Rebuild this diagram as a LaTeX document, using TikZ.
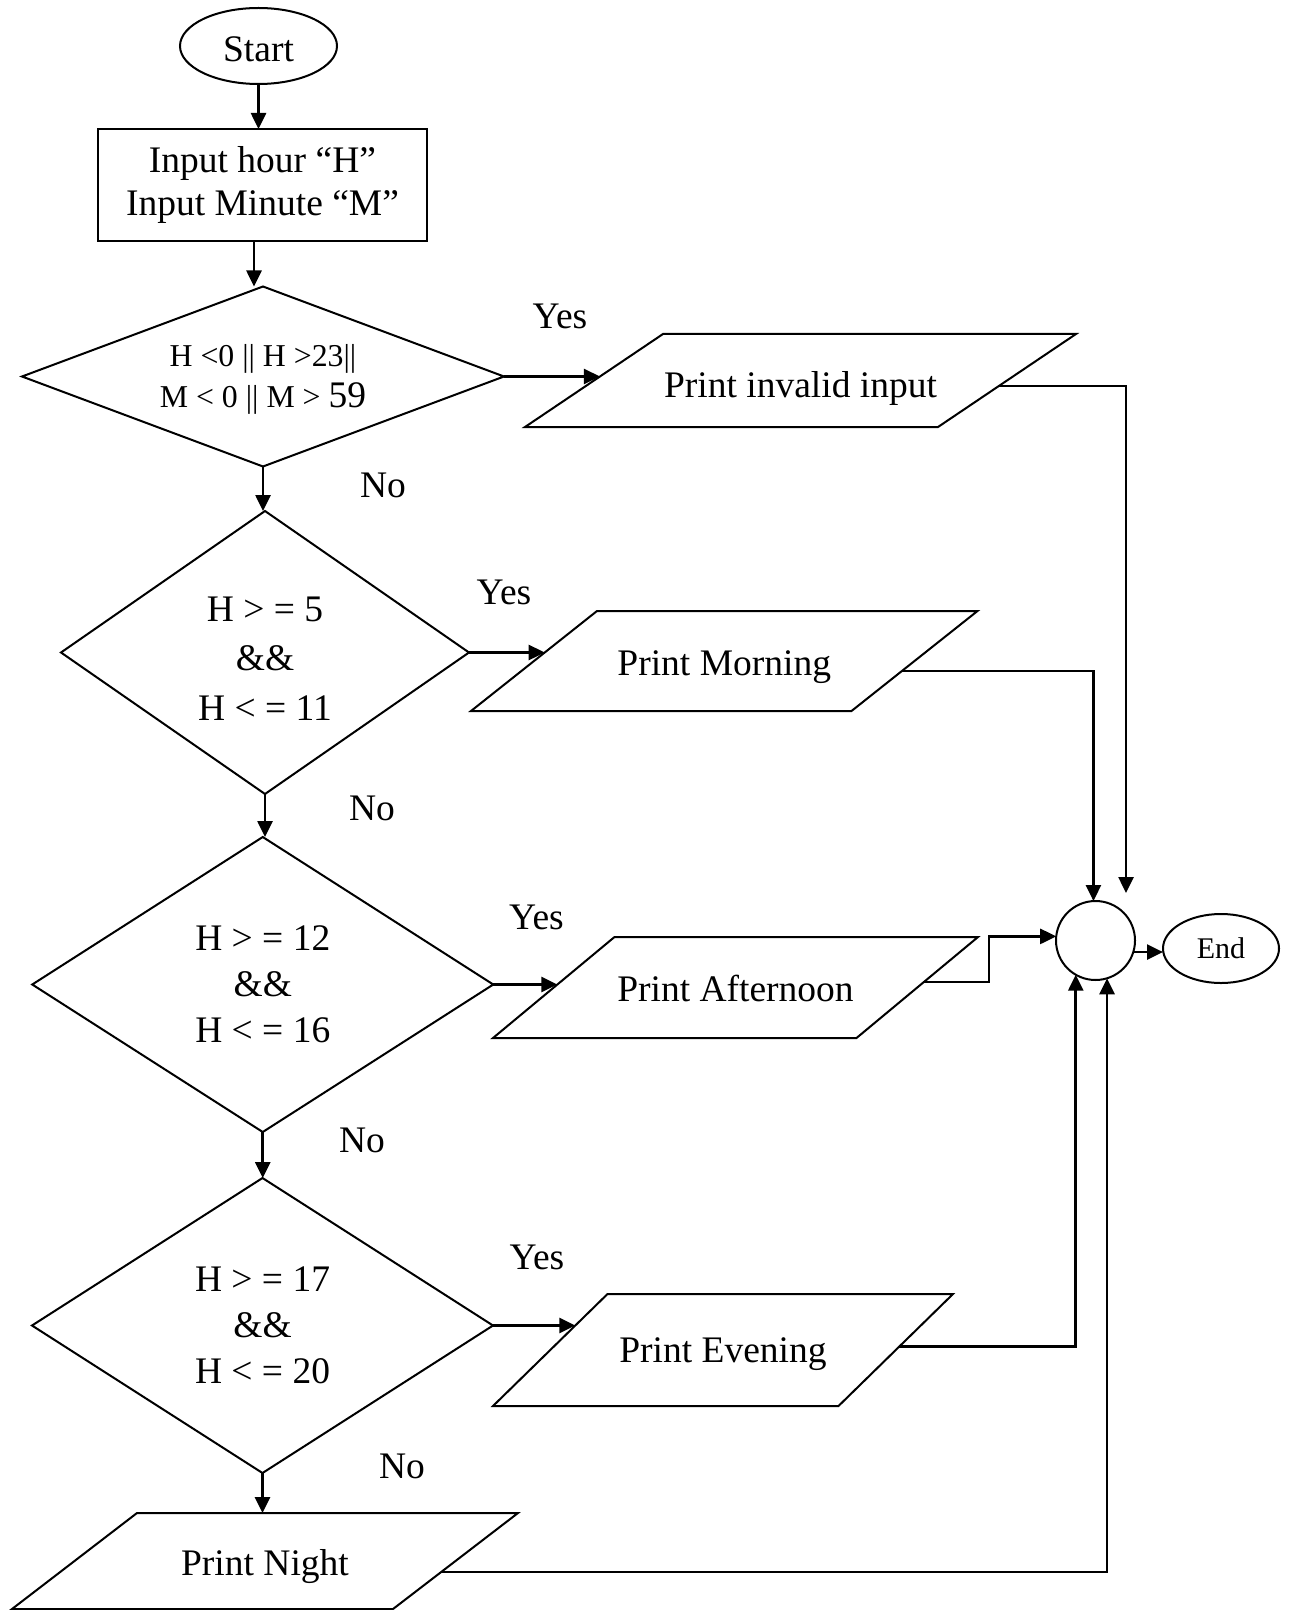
\documentclass[tikz,border=0pt]{standalone}
\usepackage{fontspec}
\setmainfont{Liberation Serif}
\usetikzlibrary{shapes.geometric,arrows.meta,calc}
% parallelogram drawn around a named box: #1 node name, #2 half of the slant
\newcommand\drawio[2]{%
  \coordinate (#1tl) at ([xshift=#2]#1.north west);
  \coordinate (#1tr) at ([xshift=#2]#1.north east);
  \coordinate (#1br) at ([xshift=-#2]#1.south east);
  \coordinate (#1bl) at ([xshift=-#2]#1.south west);
  \draw[shape line] (#1tl) -- (#1tr) -- (#1br) -- (#1bl) -- cycle;}
\begin{document}
\begin{tikzpicture}[x=0.5pt,y=-0.5pt,
  every node/.style={inner sep=0pt, outer sep=0pt},
  txt/.style={font=\fontsize{18.75}{23}\selectfont},
  shape line/.style={draw, line width=1pt, line join=miter},
  terminal/.style={ellipse, shape line, txt},
  procbox/.style={rectangle, shape line, txt, align=center},
  decision/.style={diamond, shape line},
  condtext/.style={txt, align=center},
  iobox/.style={rectangle, txt, text height=12.4pt, text depth=0pt},
  flow/.style={line width=1.3pt, -{Triangle[length=8pt,width=7.5pt]}},
  lbl/.style={txt}
]
\useasboundingbox (0,0) rectangle (1294,1610);

% main column
\node[terminal, minimum width=78.5pt, minimum height=38pt,
      text height=15.6pt, text depth=0pt] (start) at (258.5,46) {Start};
\node[procbox, minimum width=164.5pt, minimum height=56pt,
      font=\fontsize{18.75}{21.5}\selectfont] (input) at (262.5,185)
      {Input hour “H”\\Input Minute “M”};

\node[decision, minimum width=241pt, minimum height=90pt, aspect=2.68] (d1) at (263,376.5) {};
\node[condtext, font=\fontsize{15.9}{20.5}\selectfont] (d1t) at (263,379.5)
      {H <0 || H >23||\\M < 0 || M > {\fontsize{18.75}{20.5}\selectfont 59}};
\node[decision, minimum width=204pt, minimum height=141.5pt, aspect=1.44] (d2) at (265,652.5) {};
\node[condtext, font=\fontsize{18.75}{24.75}\selectfont] (d2t) at (265,658.5)
      {H > = 5\\\&\&\\H < = 11};
\node[decision, minimum width=230.5pt, minimum height=147.5pt, aspect=1.56] (d3) at (262.75,984.5) {};
\node[condtext] (d3t) at (262.75,984.5) {H > = 12\\\&\&\\H < = 16};
\node[decision, minimum width=230.5pt, minimum height=147.5pt, aspect=1.56] (d4) at (262.5,1325.5) {};
\node[condtext] (d4t) at (262.5,1325) {H > = 17\\\&\&\\H < = 20};

% output boxes
\node[iobox, minimum width=206.5pt, minimum height=46.5pt, text height=17pt] (p1) at (800.5,380.5) {Print invalid input};
\drawio{p1}{34.5pt}
\node[iobox, minimum width=190.25pt, minimum height=50pt, text height=14pt] (p2) at (724.25,661) {Print Morning};
\drawio{p2}{31.5pt}
\node[iobox, minimum width=181.75pt, minimum height=50.5pt, text height=14pt] (p3) at (735.5,987.5) {Print Afternoon};
\drawio{p3}{30.375pt}
\node[iobox, minimum width=172.75pt, minimum height=56pt] (p4) at (723,1350) {Print Evening};
\drawio{p4}{28.625pt}
\node[iobox, minimum width=190.5pt, minimum height=48pt, text height=14pt] (p5) at (265,1561) {Print Night};
\drawio{p5}{31.25pt}

% connector and end
\node[circle, shape line, minimum size=39.5pt] (join) at (1095.5,940.5) {};
\node[terminal, minimum width=58pt, minimum height=34.5pt,
      font=\fontsize{15}{18}\selectfont] (finish) at (1221,948.5) {End};

% branch labels
\node[lbl] (yes1) at (560,316) {Yes};
\node[lbl] (yes2) at (504,592.5) {Yes};
\node[lbl] (yes3) at (536.5,917.5) {Yes};
\node[lbl] (yes4) at (537,1257.5) {Yes};
\node[lbl] (no1) at (383,485) {No};
\node[lbl] (no2) at (372,808) {No};
\node[lbl] (no3) at (362,1140) {No};
\node[lbl] (no4) at (402,1466) {No};

% vertical flow
\coordinate (d1in) at ($(d1.north)+(-9,0)$);
\draw[flow] (start.south) -- (start.south |- input.north);
\draw[flow] (input.south -| d1in) -- (d1in);
\draw[flow] (d1.south) -- (d1.south |- d2.north);
\draw[flow] (d2.south) -- (d2.south |- d3.north);
\draw[flow] (d3.south) -- (d3.south |- d4.north);
\draw[flow] (d4.south) -- (d4.south |- p5tl);

% yes branches, ending on the slanted left sides
\foreach \d/\q in {d1/p1, d2/p2, d3/p3, d4/p4}{
  \draw[flow] let \p1=(\d.east), \p2=(\q bl), \p3=(\q tl)
    in (\p1) -- ({\x2+(\x3-\x2)*(\y1-\y2)/(\y3-\y2)}, \y1);
}

% leaving points on the slanted right sides
\coordinate (o1) at ($(p1tr)!0.56!(p1br)$);
\coordinate (o2) at ($(p2tr)!0.60!(p2br)$);
\coordinate (o3) at ($(p3tr)!0.445!(p3br)$);
\coordinate (o4) at ($(p4tr)!0.47!(p4br)$);
\coordinate (o5) at ($(p5tr)!0.615!(p5br)$);
\coordinate (j1) at (1126,893);

\draw[flow] (o1) -| (j1);
\draw[flow] (o2) -| (join.93);
\draw[flow] (o3) -- ++(65,0) |- (join.174);
\draw[flow] (o4) -| (join.240);
\draw[flow] (o5) -| (join.287);
\draw[flow] (join.-17) -- (join.-17 -| finish.west);
\end{tikzpicture}
\end{document}
